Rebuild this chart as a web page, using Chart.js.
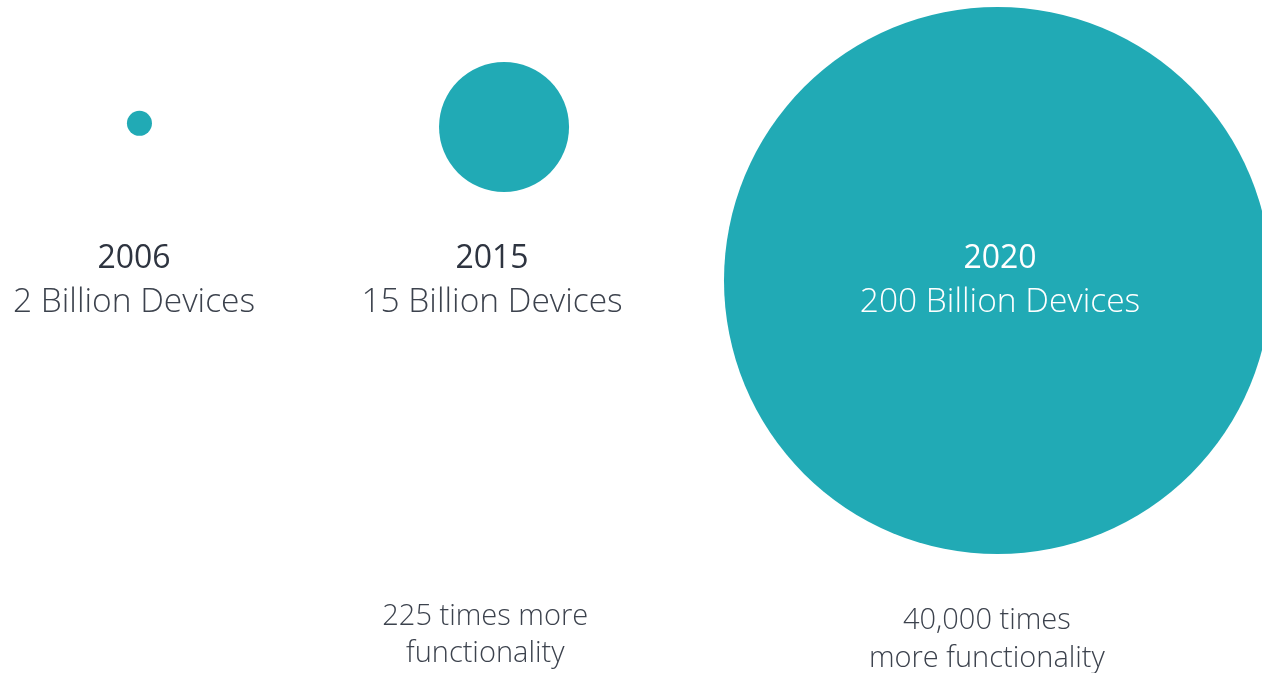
<!DOCTYPE html>
<html lang="en">
<head>
   <meta charset="UTF-8">
   <title>Connected devices</title>
   <style>
      html, body { margin: 0; padding: 0; background: #fff; overflow: hidden; }
      .wrap { width: 1262px; height: 673px; position: relative; }
   </style>
   <script src="https://cdn.jsdelivr.net/npm/chart.js@4/dist/chart.umd.min.js"></script>
</head>
<body>
   <div class="wrap">
      <canvas id="devices"></canvas>
   </div>

   <script>
      // connected devices per year (billions) and growth in functionality
      const years = ['2006', '2015', '2020'];
      const devices = [2, 15, 200];
      const functionality = [null, 225, 40000];

      // bubble placement on a 0-100 grid and radius
      const bubbleX = [11.05, 39.94, 79.04];
      const bubbleY = [18.32, 18.87, 41.68];
      const bubbleR = [12.5, 65, 273.5];

      // where the captions sit on the same grid
      const captionX = [10.62, 38.99, 79.24];
      const noteX = [null, 38.45, 78.2];

      const teal = '#21aab5';
      const dark = '#2e3440';
      const grey = '#3c424d';

      let points = years.map((y, i) => ({ x: bubbleX[i], y: bubbleY[i], r: bubbleR[i] }));

      let captions = {
         id: 'captions',
         afterDatasetsDraw(chart) {
            const ctx = chart.ctx;
            const xs = chart.scales.x, ys = chart.scales.y;
            ctx.save();
            ctx.textAlign = 'center';
            ctx.textBaseline = 'alphabetic';
            years.forEach((yr, i) => {
               // the big bubble holds its own caption, so write that one in white
               const inside = bubbleR[i] > 100;
               const cx = xs.getPixelForValue(captionX[i]);
               ctx.fillStyle = inside ? '#fff' : dark;
               ctx.font = '400 32px "Open Sans"';
               ctx.fillText(yr, cx, ys.getPixelForValue(39.8));
               ctx.fillStyle = inside ? '#fff' : grey;
               ctx.font = '300 33.5px "Open Sans"';
               ctx.fillText(devices[i] + ' Billion Devices', cx, ys.getPixelForValue(46.3));

               if (functionality[i]) {
                  const nx = xs.getPixelForValue(noteX[i]);
                  const n = functionality[i].toLocaleString('en-US');
                  ctx.fillStyle = grey;
                  ctx.font = '300 29px "Open Sans"';
                  if (functionality[i] < 1000) {
                     ctx.fillText(n + ' times more', nx, ys.getPixelForValue(92.8));
                     ctx.fillText('functionality', nx, ys.getPixelForValue(98.4));
                  } else {
                     ctx.fillText(n + ' times', nx, ys.getPixelForValue(93.4));
                     ctx.fillText('more functionality', nx, ys.getPixelForValue(99.1));
                  }
               }
            });
            ctx.restore();
         }
      };

      let context = document.getElementById('devices').getContext('2d');
      let myChart = new Chart(context, {
         type: 'bubble',
         data: {
            labels: years,
            datasets: [{
               data: points,
               backgroundColor: teal,
               borderWidth: 0,
               hoverBackgroundColor: teal,
               clip: false
            }]
         },
         options: {
            responsive: true,
            maintainAspectRatio: false,
            animation: false,
            layout: { padding: 0, autoPadding: false },
            plugins: {
               legend: { display: false },
               tooltip: { enabled: false }
            },
            scales: {
               x: { type: 'linear', min: 0, max: 100, display: false },
               y: { type: 'linear', min: 0, max: 100, reverse: true, display: false }
            }
         },
         plugins: [captions]
      });
   </script>
</body>
</html>
